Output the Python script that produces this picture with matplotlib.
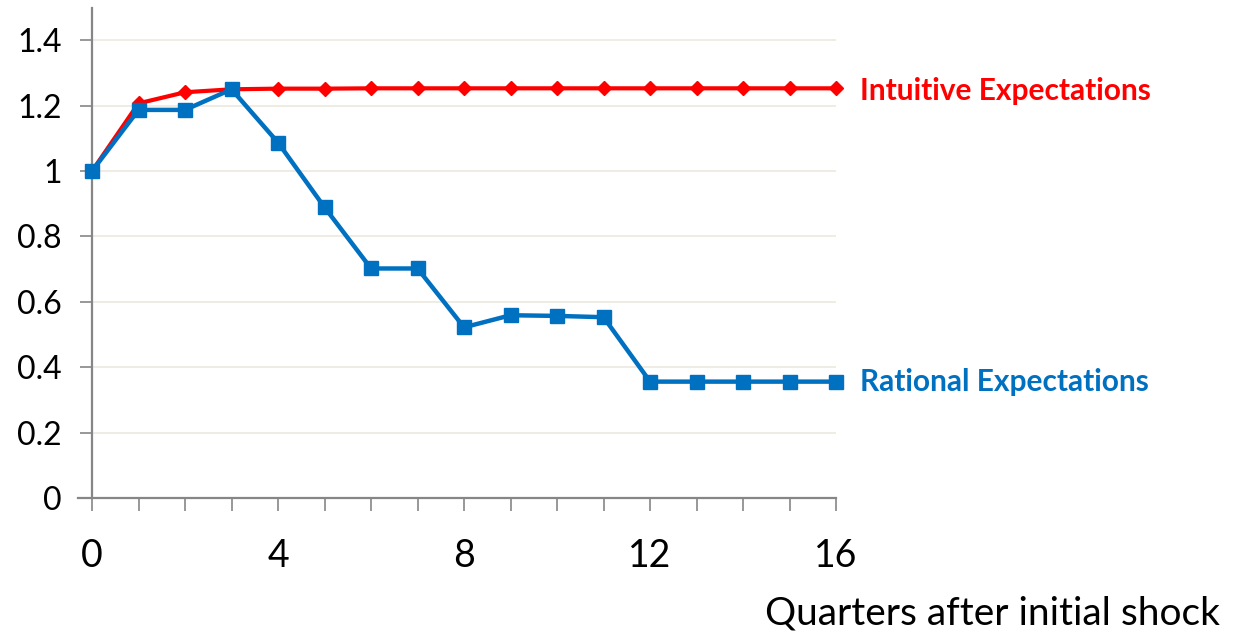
import matplotlib
matplotlib.use('Agg')
import matplotlib.pyplot as plt

quarters = list(range(17))
intuitive = [1.0, 1.207, 1.241, 1.250, 1.252, 1.252, 1.253, 1.253, 1.253,
             1.253, 1.253, 1.253, 1.253, 1.253, 1.253, 1.253, 1.253]
rational = [1.0, 1.187, 1.187, 1.250, 1.087, 0.889, 0.702, 0.702, 0.522,
            0.559, 0.557, 0.553, 0.356, 0.356, 0.356, 0.356, 0.356]
xtick_vals = [0, 4, 8, 12, 16]
ytick_vals = [0, 0.2, 0.4, 0.6, 0.8, 1.0, 1.2, 1.4]
ytick_labels = ['0', '0.2', '0.4', '0.6', '0.8', '1', '1.2', '1.4']

plt.rcParams['font.family'] = ['Lato', 'DejaVu Sans']

fig = plt.figure(figsize=(12.37, 6.35), dpi=100)
ax = fig.add_axes([0.0744, 0.2157, 0.6015, 0.7724])

red = '#FF0000'
blue = '#0070C0'
axis_col = '#868686'

ax.plot(quarters, intuitive, color=red, lw=3, marker='D', ms=7.5, zorder=3, clip_on=False)
ax.plot(quarters, rational, color=blue, lw=3.2, marker='s', ms=10, zorder=6, clip_on=False)

ax.set_xlim(0, 16)
ax.set_ylim(0, 1.5)
ax.set_xticks(quarters)
ax.set_xticklabels([str(q) if q in xtick_vals else '' for q in quarters])
ax.set_yticks(ytick_vals)
ax.set_yticklabels(ytick_labels)
ax.grid(axis='y', color='#EEECE1', lw=1.3, zorder=0)

for s in ['top', 'right']:
    ax.spines[s].set_visible(False)
for s in ['left', 'bottom']:
    ax.spines[s].set_color(axis_col)
    ax.spines[s].set_linewidth(1.6)
    ax.spines[s].set_zorder(5)
ax.spines['bottom'].set_bounds(-0.3, 16)
ax.spines['bottom'].set_clip_on(False)

ax.tick_params(axis='x', length=9, width=1.2, color=axis_col, pad=20,
               labelsize=27, labelcolor='black')
ax.tick_params(axis='y', length=9, width=1.2, color=axis_col, pad=13,
               labelsize=23, labelcolor='black')

ax.set_xlabel('Quarters after initial shock', fontsize=28, ha='right', va='center')
ax.xaxis.set_label_coords(1.516, -0.236)

ax.annotate('Intuitive Expectations', xy=(16, intuitive[-1]), xytext=(17, -2),
            textcoords='offset points', color=red, fontsize=21.5,
            fontweight='bold', va='center', ha='left', annotation_clip=False)
ax.annotate('Rational Expectations', xy=(16, rational[-1]), xytext=(17, 0),
            textcoords='offset points', color=blue, fontsize=21.5,
            fontweight='bold', va='center', ha='left', annotation_clip=False)

fig.savefig('out.png', dpi=100)
